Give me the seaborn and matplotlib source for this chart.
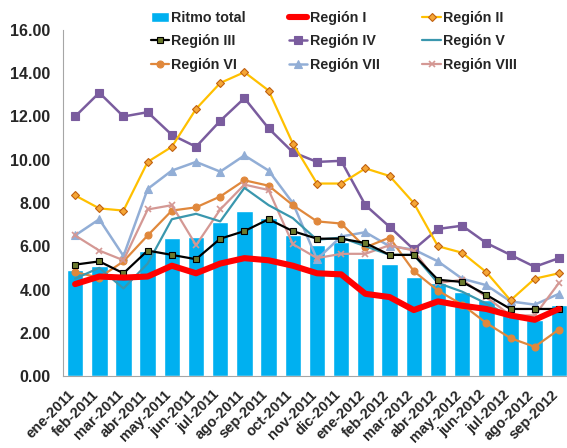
import numpy as np
import pandas as pd
import matplotlib
matplotlib.use("Agg")
import matplotlib.pyplot as plt
import matplotlib.ticker as mticker
import seaborn as sns

# ---- data ----
months = ["ene-2011", "feb-2011", "mar-2011", "abr-2011", "may-2011", "jun-2011",
          "jul-2011", "ago-2011", "sep-2011", "oct-2011", "nov-2011", "dic-2011",
          "ene-2012", "feb-2012", "mar-2012", "abr-2012", "may-2012", "jun-2012",
          "jul-2012", "ago-2012", "sep-2012"]

ritmo_total = [4.9, 5.1, 4.6, 5.8, 6.4, 6.45, 7.1, 7.65, 7.3, 6.5, 6.05,
               6.2, 5.45, 5.2, 4.6, 4.3, 3.9, 3.5, 2.8, 2.6, 3.3]
region_1 = [4.25, 4.6, 4.55, 4.6, 5.1, 4.75, 5.2, 5.45, 5.35, 5.1, 4.75,
            4.7, 3.8, 3.65, 3.05, 3.45, 3.25, 3.1, 2.8, 2.6, 3.1]
region_2 = [8.35, 7.75, 7.65, 9.9, 10.6, 12.35, 13.55, 14.05, 13.2, 10.75, 8.9,
            8.9, 9.6, 9.25, 8.0, 6.0, 5.7, 4.8, 3.5, 4.5, 4.75]
region_3 = [5.15, 5.3, 4.75, 5.8, 5.6, 5.4, 6.35, 6.7, 7.25, 6.7, 6.35,
            6.35, 6.15, 5.6, 5.6, 4.45, 4.35, 3.75, 3.1, 3.1, 3.1]
region_4 = [12.0, 13.1, 12.0, 12.2, 11.15, 10.6, 11.8, 12.85, 11.45, 10.35, 9.9,
            9.95, 7.9, 6.9, 5.85, 6.8, 6.95, 6.15, 5.6, 5.05, 5.45]
region_5 = [4.5, 5.0, 4.05, 5.2, 7.25, 7.5, 7.15, 8.7, 7.9, 7.3, 6.3,
            6.4, 6.0, 5.6, 5.6, 4.3, 3.9, 3.35, 2.75, 2.6, 3.1]
region_6 = [4.8, 4.55, 5.3, 6.5, 7.65, 7.8, 8.3, 9.05, 8.8, 7.9, 7.15,
            7.05, 5.95, 6.4, 4.85, 3.95, 3.3, 2.45, 1.75, 1.35, 2.15]
region_7 = [6.5, 7.25, 5.55, 8.65, 9.5, 9.9, 9.45, 10.2, 9.5, 8.0, 5.4,
            6.45, 6.65, 6.0, 5.85, 5.3, 4.5, 4.2, 3.45, 3.3, 3.8]
region_8 = [6.5, 5.8, 5.35, 7.7, 7.9, 6.05, 7.7, 8.85, 8.6, 6.1, 5.45,
            5.65, 5.65, 6.05, 5.8, 4.3, 4.45, 3.65, 2.8, 2.8, 4.3]

idx = np.arange(len(months))

sns.set_theme(style="white")
plt.rcParams.update({
    "font.family": ["Liberation Sans", "DejaVu Sans"],
    "font.weight": "bold",
})

fig = plt.figure(figsize=(5.67, 4.48), dpi=100)
# right edge of the plot runs slightly past the image, like the source
ax = fig.add_axes([63 / 567, 72 / 448, 508 / 567, 346 / 448])

df = pd.DataFrame({"mes": months, "total": ritmo_total})
sns.barplot(data=df, x="mes", y="total", color="#00B0F0", saturation=1,
            width=0.68, ax=ax, label="Ritmo total")

# (values, label, color, linewidth, marker, marker face, marker size)
series = [
    (region_1, "Región I", "#FF0000", 4.4, None, None, 0),
    (region_2, "Región II", "#FFC000", 1.6, "D", "#F5A636", 4.5),
    (region_3, "Región III", "#000000", 1.6, "s", "#6B7A2E", 4.5),
    (region_4, "Región IV", "#7A5C9E", 1.8, "s", "#7A5C9E", 5.5),
    (region_5, "Región V", "#3A97AE", 1.6, None, None, 0),
    (region_6, "Región VI", "#E0883C", 1.6, "o", "#E0883C", 5),
    (region_7, "Región VII", "#92AED6", 1.8, "^", "#92AED6", 6),
    (region_8, "Región VIII", "#D49894", 1.6, "x", "#D49894", 5),
]

# back-to-front so Región I sits on top
draw_order = [6, 5, 3, 1, 7, 4, 2, 0]
for k in draw_order:
    vals, lab, col, lw, mk, mfc, ms = series[k]
    edge = "#C06010" if k == 1 else ("#000000" if k == 2 else col)
    sns.lineplot(x=idx, y=vals, color=col, linewidth=lw, marker=mk,
                 markersize=ms, markerfacecolor=mfc, markeredgecolor=edge,
                 markeredgewidth=0.8 if mk != "x" else 1.2,
                 label=lab, ax=ax, legend=False, zorder=3 + (10 if k == 0 else 0))

ax.set_xlim(-0.5, len(months) - 0.5)
ax.set_ylim(0, 16)
ax.yaxis.set_major_locator(mticker.MultipleLocator(2))
ax.yaxis.set_major_formatter(mticker.FormatStrFormatter("%.2f"))
ax.set_xlabel("")
ax.set_ylabel("")

# tick marks at category boundaries, labels at centres
ax.set_xticks(idx)
ax.set_xticklabels(months, rotation=45, ha="right", va="baseline",
                   rotation_mode="anchor", fontsize=10.5, fontweight="bold")
ax.set_xticks(np.arange(-0.5, len(months), 1), minor=True)
ax.tick_params(axis="x", which="major", length=0, pad=14)
ax.tick_params(axis="x", which="minor", length=5, color="#A6A6A6", width=0.8)
ax.tick_params(axis="y", length=5, color="#A6A6A6", width=0.8, pad=4,
               labelsize=11.5)
for t in ax.get_yticklabels():
    t.set_fontweight("bold")

for side in ["top", "right"]:
    ax.spines[side].set_visible(False)
for side in ["left", "bottom"]:
    ax.spines[side].set_color("#A6A6A6")
    ax.spines[side].set_linewidth(0.8)

# legend filled row by row in 3 columns
h, l = ax.get_legend_handles_labels()
if ax.get_legend() is not None:
    ax.get_legend().remove()
lookup = dict(zip(l, h))
order = ["Ritmo total", "Región III", "Región VI",
         "Región I", "Región IV", "Región VII",
         "Región II", "Región V", "Región VIII"]
fig.legend([lookup[o] for o in order], order, ncol=3, frameon=False,
           loc="upper left", bbox_to_anchor=(142 / 567, 1 - 2 / 448),
           prop={"weight": "bold", "size": 10.3}, handlelength=1.3,
           handletextpad=0.15, columnspacing=3.0, labelspacing=0.68,
           borderaxespad=0.2)

fig.savefig("out.png", dpi=100)
